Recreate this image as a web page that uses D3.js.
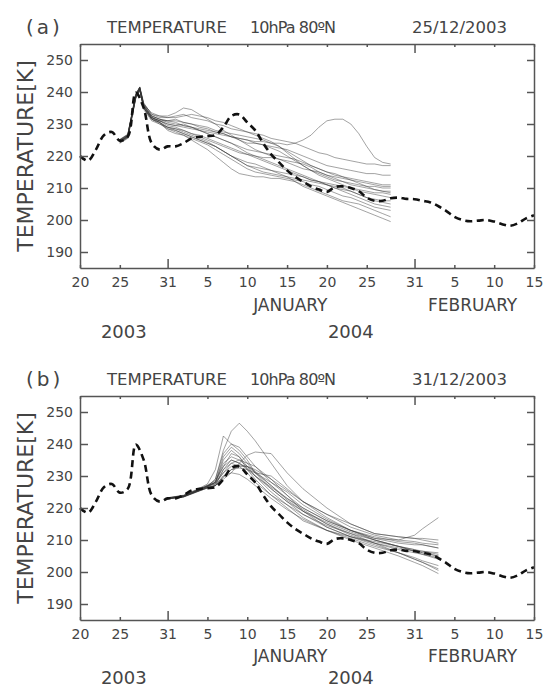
<!DOCTYPE html>
<html>
<head>
<meta charset="utf-8">
<script src="https://cdn.jsdelivr.net/npm/d3@7"></script>
<style>
  body { margin: 0; background: white; }
  text { font-family: "DejaVu Sans", sans-serif; fill: #444; }
</style>
</head>
<body>
<div id="chart"></div>
<script>
// day offsets counted from 20 Dec 2003
var tickDays = [0, 5, 11, 16, 21, 26, 31, 36, 42, 47, 52, 57];
var tickLabels = ["20", "25", "31", "5", "10", "15", "20", "25", "31", "5", "10", "15"];
var majorDays = [11, 42];
var tempTicks = [190, 200, 210, 220, 230, 240, 250];
var monthLabels = ["JANUARY", "FEBRUARY"];
var monthDays = [26.4, 49.3];
var yearLabels = ["2003", "2004"];
var yearDays = [5.5, 34];

// analysis (dashed), one value per day, day 0..57
var analysis = [220, 218.5, 222, 226.5, 227.5, 224.8, 226, 239.8, 235, 224, 222, 223, 223, 224, 225.5,
  226, 226.2, 226.5, 229, 232.5, 233, 230.5, 228, 224, 220.5, 218, 215.5, 213.5, 212, 210.5, 209.5,
  208.8, 210.3, 210.5, 210, 209, 207, 206, 206, 206.8, 207, 206.6, 206.5, 206, 205.5, 204.3, 202.8,
  201, 200, 199.6, 199.8, 200, 199.5, 198.7, 198.2, 199, 200.5, 201.5];

// (a) forecasts from 25/12/2003
var daysA = [5, 6, 7, 7.5, 8, 9, 10, 11, 12, 13, 14, 15, 16, 17, 18, 19, 20, 21, 22, 23, 24, 25,
  26, 27, 28, 29, 30, 31, 32, 33, 34, 35, 36, 37, 38, 39];
var membersA = [
  [224.5, 226, 238.5, 241, 236, 232, 231, 231, 230.5, 229.5, 229, 228, 227.5, 227, 226.5, 226, 225.5, 225, 224.5, 224.5, 224, 224, 223.5, 224, 225, 226.5, 229, 231, 231.5, 231.5, 230, 227, 223, 219.5, 218, 217.5],
  [225, 226.5, 239, 241.5, 236.5, 233, 232, 232, 232.5, 233, 232, 231.5, 231, 230, 229.5, 228.5, 228, 227.5, 227, 226.5, 225.5, 225, 224.5, 224, 223, 222, 221, 220.5, 219.5, 219, 218.5, 218, 217.5, 217.5, 217, 217],
  [224, 225.5, 238, 240.5, 235.5, 232.5, 231.5, 231, 231.5, 230.5, 230, 229, 228.5, 227.5, 227, 226, 225, 224, 224, 223.5, 223, 222.5, 222, 221, 220, 219, 218, 217, 216.5, 216, 215.5, 215, 214.5, 214.5, 214, 214],
  [224.8, 226.2, 238.8, 241.2, 235, 232, 231, 230, 229.5, 230, 229, 228, 227, 226, 225, 224, 223, 222, 221.5, 221, 220.5, 220, 219.5, 219, 218, 217, 216, 215, 214, 213.5, 213, 212.5, 212, 211.5, 211, 211],
  [225.2, 226.8, 239.5, 241.5, 236, 233.5, 232.5, 232.5, 233.5, 235, 234.5, 233, 231.5, 230, 228, 226.5, 225, 223.5, 222, 221, 220, 219, 218, 217, 216, 215.5, 215, 214, 213.5, 213, 212.5, 212, 211.5, 211, 210.5, 210.5],
  [224.2, 225.8, 238, 240.6, 235, 231.5, 230.5, 229, 228.5, 228, 227, 226, 225, 224, 223, 222, 221, 220.5, 220, 219.5, 219.5, 219, 218.5, 218, 217.5, 216.5, 215, 214, 213, 212, 211.5, 211, 210.5, 210.5, 210, 210],
  [224.6, 226, 238.6, 241, 236, 232.5, 231.5, 230.5, 230, 229.5, 229, 228.5, 228, 227.5, 227, 226, 225.5, 225, 224, 223.5, 222.5, 221.5, 220, 218.5, 217, 215.5, 214.5, 213.5, 212.5, 212, 211, 210.5, 210, 209.5, 209, 209],
  [224.4, 226.4, 239.2, 241.4, 235.5, 232, 231, 229.5, 229, 228, 227, 226.5, 225.5, 224.5, 223.5, 222.5, 221.5, 220.5, 219.5, 218.5, 217.5, 216.5, 215.5, 214.5, 213.5, 212.5, 212, 211.5, 211, 210.5, 210, 209.5, 209, 208.5, 208.5, 208],
  [225, 226.6, 239, 241.6, 236.5, 233, 232.5, 232, 232, 232.5, 233, 232.5, 232, 231, 230.5, 229.5, 228.5, 227.5, 226.5, 225.5, 224.5, 223, 221, 219, 217, 215.5, 214, 213, 212, 211, 210, 209, 208.5, 208, 207.5, 207],
  [224.3, 225.9, 238.2, 240.8, 235, 231.5, 230, 229, 228, 227, 226, 225, 224, 223, 221.5, 220, 218.5, 217, 216, 215, 214.5, 214, 213.5, 213, 212.5, 212, 211.5, 211, 210.5, 210, 209, 208, 207, 206.5, 206, 206],
  [224.7, 226.3, 238.7, 241.1, 235.5, 232, 231, 230, 229.5, 229, 228.5, 228, 227, 226, 225, 224, 222.5, 221, 220, 219, 218, 217, 216, 215, 214, 213, 212, 211, 210, 209.5, 209, 208, 207, 206, 205.5, 205],
  [224.1, 225.7, 238.3, 240.7, 234.5, 231, 230, 228.5, 228, 227, 226, 225, 224, 223, 221.5, 220, 218.5, 217, 216.5, 216, 215.5, 215, 214.5, 214, 213.5, 212.5, 212, 211, 210, 209, 208, 207, 206, 205, 204.5, 204],
  [224.5, 226.1, 238.4, 240.9, 235, 231.5, 230.5, 228, 227, 226.5, 225.5, 224.5, 223.5, 222, 220.5, 219, 217.5, 216, 215, 214.5, 214, 213.5, 213, 212.5, 212, 211, 210.5, 209.5, 208.5, 207.5, 207, 206, 205, 204, 203.5, 203],
  [224.9, 226.5, 238.9, 241.3, 235.5, 232, 230.5, 228.5, 227.5, 226.5, 225, 223.5, 222, 220, 218, 216, 214.5, 214, 213.5, 213.5, 213, 213, 212.5, 212, 211, 210, 209, 208, 207, 206, 205.5, 205, 204, 203, 202, 201],
  [224.6, 226.2, 238.5, 241, 235, 231.5, 230.5, 229, 228.5, 227.5, 226.5, 225.5, 224.5, 223, 221.5, 220, 219, 218, 217.5, 216.5, 215.5, 214.5, 213.5, 212, 210.5, 209.5, 208.5, 207.5, 206.5, 205.5, 204.5, 203.5, 202.5, 201.5, 200.5, 199.5],
  [225.1, 226.7, 239.1, 241.4, 236, 232.5, 231.5, 231, 231, 230.5, 230, 229.5, 229, 228, 227.5, 227, 226.5, 226, 225.5, 225, 224, 223, 221.5, 220, 218.5, 217, 216, 215, 214.5, 213.5, 212.5, 211.5, 210.5, 209.5, 209, 208.5]
];

// (b) forecasts from 31/12/2003
var daysB = [11, 13, 15, 16, 17, 18, 19, 20, 21, 22, 24, 26, 28, 31, 34, 37, 40, 42, 43, 45];
var membersB = [
  [223, 223.6, 225.8, 226.8, 229, 238, 244, 246.5, 244, 241, 234, 227, 222, 217, 213, 210, 208, 206.5, 206, 205],
  [223.2, 224, 226.2, 227.5, 232, 242.5, 240, 238, 235, 231, 226, 222, 219, 215, 212, 209, 206, 204, 203, 201],
  [222.8, 223.5, 225.4, 226.2, 227, 229, 231, 234, 236.5, 237.5, 237, 231, 226, 220, 215, 212, 211, 210.5, 210, 209],
  [223, 223.8, 225.6, 226.6, 229, 237, 240, 239, 236, 233, 228, 224, 220, 216, 213, 210.5, 210, 211.5, 213.5, 217],
  [223.1, 223.7, 225.7, 226.9, 228, 236, 239, 237, 234, 231, 227, 223, 219.5, 215, 211.5, 209, 207, 206, 205.5, 204],
  [222.9, 223.6, 225.5, 226.5, 228, 234, 236, 235, 233, 231, 228, 225, 221, 216.5, 213, 211, 209.5, 209, 208.5, 207.5],
  [223, 223.4, 225.3, 226.3, 227, 232, 235, 234, 232, 230, 226, 222, 218, 214, 211, 208.5, 206, 204, 203, 200.5],
  [223.2, 223.9, 226, 227, 227.5, 231, 233, 233.5, 233, 232, 229, 225.5, 222, 218, 214, 211.5, 210, 209.5, 209, 208.5],
  [222.8, 223.5, 225.6, 226.8, 228, 233, 237, 236, 232, 229, 224, 220, 216, 213, 210.5, 208, 206, 204.5, 203.5, 202],
  [223, 223.7, 225.5, 226.4, 227, 230, 232, 232.5, 232, 231, 230, 226, 222, 218, 215, 212, 211, 210.5, 210.5, 210],
  [223.1, 223.8, 225.9, 226.7, 227.5, 232, 234, 233, 231, 228, 224, 221, 218, 214.5, 212, 210, 208, 206.5, 205.5, 204.5],
  [222.9, 223.6, 225.7, 227, 228, 235, 238, 236, 233, 230, 225, 221, 217, 213, 210, 207.5, 205, 203, 202, 199.5],
  [223, 223.5, 225.4, 226.3, 227, 230, 231, 230.5, 229, 227, 223, 219.5, 216.5, 213, 211, 209.5, 208, 207, 206, 205],
  [223.1, 223.9, 225.8, 226.9, 228, 231, 234, 235, 234, 233, 229, 224, 219, 214, 211, 209, 207.5, 206.5, 206.5, 206],
  [223, 223.7, 226, 227.2, 228.5, 233, 235, 234, 232.5, 230, 226.5, 223, 220, 216, 213, 210.5, 209, 208.5, 208.5, 207.5],
  [222.9, 223.6, 225.5, 226.5, 227, 229.5, 232, 233, 233, 231.5, 227, 222.5, 219, 215.5, 212.5, 210, 208, 207, 206.5, 205.5]
];

var panelLetters = ["(a)", "(b)"];
var panelDates = ["25/12/2003", "31/12/2003"];
var panelDays = [daysA, daysB];
var panelMembers = [membersA, membersB];

var width = 549, height = 689;
var left = 80, right = 534;
var plotHeight = 224;
var panelTops = [44, 396];
var monthOffsets = [43, 42];
var yearOffsets = [70, 64];

var svg = d3.select("#chart").append("svg")
    .attr("width", width)
    .attr("height", height);

var x = d3.scaleLinear().domain([0, 57]).range([left, right]);

panelTops.forEach(function(top, p) {
  var y = d3.scaleLinear().domain([185, 255]).range([top + plotHeight, top]);
  var g = svg.append("g");

  // title row
  g.append("text").attr("x", 26).attr("y", top - 10)
      .style("font-size", "20px").style("letter-spacing", "3px")
      .text(panelLetters[p]);
  g.append("text").attr("x", 107).attr("y", top - 11)
      .style("font-size", "16.5px")
      .text("TEMPERATURE");
  g.append("text").attr("x", 250).attr("y", top - 11)
      .style("font-size", "16px")
      .attr("textLength", 86)
      .text("10hPa 80ºN");
  g.append("text").attr("x", 507).attr("y", top - 11)
      .style("font-size", "16.5px")
      .style("text-anchor", "end")
      .text(panelDates[p]);

  // y title
  g.append("text")
      .attr("transform", "translate(33," + (top + plotHeight / 2) + ") rotate(-90)")
      .style("text-anchor", "middle")
      .style("font-size", "22px")
      .text("TEMPERATURE[K]");

  // forecast members
  var memberLine = d3.line()
      .x(function(d, i) { return x(panelDays[p][i]); })
      .y(function(d) { return y(d); });

  g.selectAll(".member")
      .data(panelMembers[p])
      .enter()
      .append("path")
      .attr("class", "member")
      .attr("d", memberLine)
      .attr("fill", "none")
      .attr("stroke", "#333")
      .attr("stroke-opacity", 0.45)
      .attr("stroke-width", 1);

  // analysis
  var analysisLine = d3.line()
      .x(function(d, i) { return x(i); })
      .y(function(d) { return y(d); })
      .curve(d3.curveCatmullRom);

  g.append("path")
      .datum(analysis)
      .attr("d", analysisLine)
      .attr("fill", "none")
      .attr("stroke", "#111")
      .attr("stroke-width", 2.6)
      .attr("stroke-dasharray", "7,4.5");

  // axes
  var bottom = g.append("g")
      .attr("transform", "translate(0," + (top + plotHeight) + ")")
      .call(d3.axisBottom(x).tickValues(tickDays)
        .tickFormat(function(d, i) { return tickLabels[i]; })
        .tickSizeInner(-3).tickSizeOuter(0).tickPadding(9));
  bottom.selectAll(".tick line")
      .attr("y2", function(d) { return majorDays.indexOf(d) >= 0 ? -9 : -3; });

  var topAxis = g.append("g")
      .attr("transform", "translate(0," + top + ")")
      .call(d3.axisTop(x).tickValues(tickDays).tickFormat("")
        .tickSizeInner(-3).tickSizeOuter(0));
  topAxis.selectAll(".tick line")
      .attr("y2", function(d) { return majorDays.indexOf(d) >= 0 ? 9 : 3; });

  g.append("g")
      .attr("transform", "translate(" + left + ",0)")
      .call(d3.axisLeft(y).tickValues(tempTicks)
        .tickSizeInner(-8).tickSizeOuter(0).tickPadding(7));

  g.append("g")
      .attr("transform", "translate(" + right + ",0)")
      .call(d3.axisRight(y).tickValues(tempTicks).tickFormat("")
        .tickSizeInner(-7).tickSizeOuter(0));

  g.selectAll(".domain, .tick line")
      .attr("stroke", "#555")
      .attr("stroke-width", 1.5);
  g.selectAll(".tick text")
      .attr("fill", "#444")
      .style("font-family", "DejaVu Sans")
      .style("font-size", "14px");

  // month and year labels
  g.selectAll(".month")
      .data(monthLabels)
      .enter()
      .append("text")
      .attr("class", "month")
      .attr("x", function(d, i) { return x(monthDays[i]); })
      .attr("y", top + plotHeight + monthOffsets[p])
      .style("text-anchor", "middle")
      .style("font-size", "17px")
      .text(function(d) { return d; });

  g.selectAll(".year")
      .data(yearLabels)
      .enter()
      .append("text")
      .attr("class", "year")
      .attr("x", function(d, i) { return x(yearDays[i]); })
      .attr("y", top + plotHeight + yearOffsets[p])
      .style("text-anchor", "middle")
      .style("font-size", "18px")
      .text(function(d) { return d; });
});
</script>
</body>
</html>
